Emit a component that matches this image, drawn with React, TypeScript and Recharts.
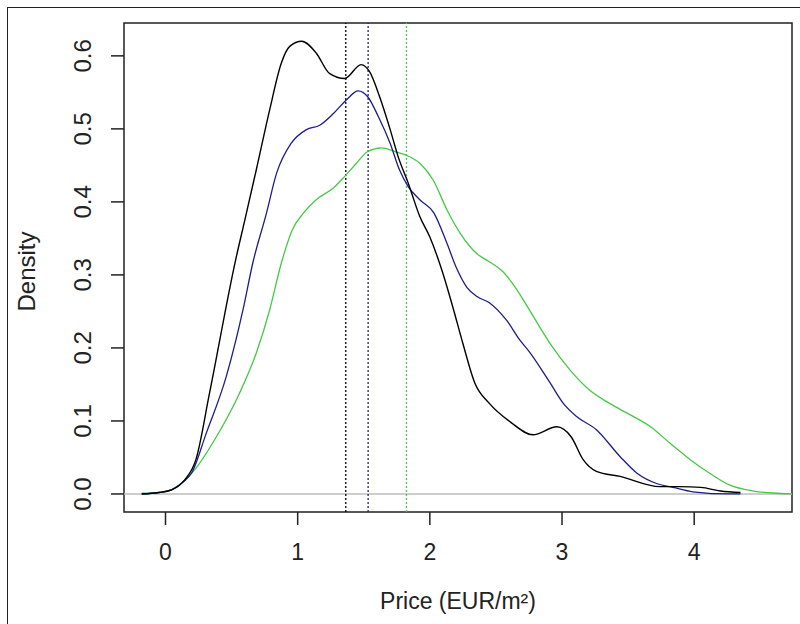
import React from 'react';
import { LineChart, Line, XAxis, YAxis, ReferenceLine, ReferenceArea } from 'recharts';

const blackPrice = [-0.18, -0.05, 0.05, 0.144, 0.23, 0.333, 0.53, 0.6, 0.687, 0.788, 0.876, 0.94, 1.03, 1.14, 1.24, 1.356, 1.48, 1.545, 1.62, 1.7, 1.76, 1.836, 1.924, 2.0, 2.09, 2.18, 2.25, 2.34, 2.45, 2.606, 2.78, 2.96, 3.07, 3.16, 3.26, 3.44, 3.74, 3.89, 4.05, 4.2, 4.35];
const blackDensity = [0.0, 0.002, 0.006, 0.019, 0.047, 0.138, 0.32, 0.375, 0.444, 0.526, 0.59, 0.613, 0.62, 0.604, 0.576, 0.569, 0.588, 0.578, 0.544, 0.499, 0.462, 0.426, 0.38, 0.352, 0.307, 0.252, 0.206, 0.152, 0.124, 0.099, 0.081, 0.092, 0.078, 0.047, 0.031, 0.024, 0.01, 0.01, 0.009, 0.004, 0.002];

const bluePrice = [-0.18, -0.05, 0.05, 0.144, 0.195, 0.308, 0.46, 0.586, 0.66, 0.763, 0.84, 0.95, 1.066, 1.167, 1.27, 1.37, 1.457, 1.53, 1.61, 1.7, 1.77, 1.836, 1.924, 2.03, 2.13, 2.2, 2.28, 2.36, 2.45, 2.58, 2.68, 2.76, 2.91, 3.01, 3.11, 3.26, 3.44, 3.57, 3.72, 3.84, 3.99, 4.27, 4.35];
const blueDensity = [0.0, 0.002, 0.006, 0.018, 0.028, 0.083, 0.161, 0.252, 0.316, 0.384, 0.439, 0.48, 0.499, 0.505, 0.521, 0.54, 0.552, 0.544, 0.517, 0.48, 0.444, 0.421, 0.403, 0.385, 0.343, 0.31, 0.283, 0.27, 0.262, 0.238, 0.211, 0.193, 0.152, 0.124, 0.106, 0.088, 0.051, 0.028, 0.014, 0.009, 0.003, 0.0, 0.0];

const greenPrice = [-0.18, 0.0, 0.1, 0.22, 0.384, 0.56, 0.687, 0.788, 0.876, 0.96, 1.04, 1.14, 1.27, 1.356, 1.445, 1.53, 1.634, 1.735, 1.82, 1.924, 2.025, 2.13, 2.23, 2.35, 2.45, 2.55, 2.65, 2.76, 2.91, 3.06, 3.21, 3.36, 3.52, 3.67, 3.82, 3.97, 4.12, 4.27, 4.45, 4.63, 4.74];
const greenDensity = [0.001, 0.003, 0.012, 0.033, 0.078, 0.138, 0.193, 0.252, 0.316, 0.362, 0.384, 0.403, 0.419, 0.435, 0.453, 0.469, 0.474, 0.469, 0.464, 0.453, 0.43, 0.389, 0.357, 0.33, 0.318, 0.305, 0.282, 0.25, 0.206, 0.17, 0.142, 0.124, 0.108, 0.092, 0.069, 0.047, 0.028, 0.012, 0.004, 0.001, 0.0];

const meanLines = [1.364, 1.533, 1.823];
const xTicks = [0, 1, 2, 3, 4];
const yTicks = [0, 0.1, 0.2, 0.3, 0.4, 0.5, 0.6];
const xDomain = [-0.314, 4.74];
const yDomain = [-0.0247, 0.645];

const COLORS = ['#000000', '#1c1c8a', '#44c944'];
const FONT = '"Liberation Sans", Arial, sans-serif';

const toPoints = (xs: number[], ys: number[]) => xs.map((x, i) => ({ x, y: ys[i] }));
const blackData = toPoints(blackPrice, blackDensity);
const blueData = toPoints(bluePrice, blueDensity);
const greenData = toPoints(greenPrice, greenDensity);

const YTick = (props: any) => {
  const { x, y, payload } = props;
  return (
    <text x={x} y={y} transform={`rotate(-90, ${x}, ${y})`} textAnchor="middle" fontSize={24} fill="#222" fontFamily={FONT}>
      {Number(payload.value).toFixed(1)}
    </text>
  );
};

const YLabel = (props: any) => {
  const vb = props.viewBox || {};
  const cx = 35;
  const cy = (vb.y || 0) + (vb.height || 0) / 2 + 4;
  return (
    <text x={cx} y={cy} transform={`rotate(-90, ${cx}, ${cy})`} textAnchor="middle" fontSize={24} fill="#222" fontFamily={FONT}>
      Density
    </text>
  );
};

const XLabel = (props: any) => {
  const vb = props.viewBox || {};
  const cx = (vb.x || 0) + (vb.width || 0) / 2;
  return (
    <text x={cx} y={608.5} textAnchor="middle" fontSize={23} fill="#222" fontFamily={FONT}>
      Price (EUR/m²)
    </text>
  );
};

export default function App() {
  return (
    <div style={{ position: 'absolute', left: 0, top: 0, width: 800, height: 624, background: '#fff', overflow: 'hidden' }}>
      <div style={{ position: 'absolute', left: 7, top: 7, width: 800, height: 624, borderTop: '1.5px solid #222', borderLeft: '1.5px solid #222' }} />
      <div style={{ position: 'absolute', left: 0, top: 0 }}>
        <LineChart width={800} height={624} margin={{ top: 23, right: 8, bottom: 0, left: 0 }}>
          <XAxis
            type="number"
            dataKey="x"
            domain={xDomain}
            allowDataOverflow
            ticks={xTicks}
            tickSize={13}
            tickMargin={19}
            height={112}
            axisLine={false}
            tickLine={{ stroke: '#222', strokeWidth: 1.5 }}
            tick={{ fontSize: 23, fill: '#222', fontFamily: FONT }}
            label={<XLabel />}
          />
          <YAxis
            type="number"
            domain={yDomain}
            allowDataOverflow
            ticks={yTicks}
            width={124}
            tickSize={13}
            tickMargin={19.5}
            axisLine={false}
            tickLine={{ stroke: '#222', strokeWidth: 1.5 }}
            tick={<YTick />}
            label={<YLabel />}
          />
          <ReferenceLine y={0} stroke="#bdbdbd" strokeWidth={1.5} />
          <ReferenceLine x={meanLines[0]} stroke={COLORS[0]} strokeWidth={1.3} strokeDasharray="2 2" />
          <ReferenceLine x={meanLines[1]} stroke={COLORS[1]} strokeWidth={1.3} strokeDasharray="2 2" />
          <ReferenceLine x={meanLines[2]} stroke={COLORS[2]} strokeWidth={1.3} strokeDasharray="2 2" />
          <Line data={greenData} dataKey="y" type="monotone" stroke={COLORS[2]} strokeWidth={1.3} dot={false} isAnimationActive={false} />
          <Line data={blueData} dataKey="y" type="monotone" stroke={COLORS[1]} strokeWidth={1.3} dot={false} isAnimationActive={false} />
          <Line data={blackData} dataKey="y" type="monotone" stroke={COLORS[0]} strokeWidth={1.4} dot={false} isAnimationActive={false} />
          <ReferenceArea x1={xDomain[0]} x2={xDomain[1]} y1={yDomain[0]} y2={yDomain[1]} fill="none" stroke="#222" strokeWidth={1.5} ifOverflow="visible" />
        </LineChart>
      </div>
    </div>
  );
}
